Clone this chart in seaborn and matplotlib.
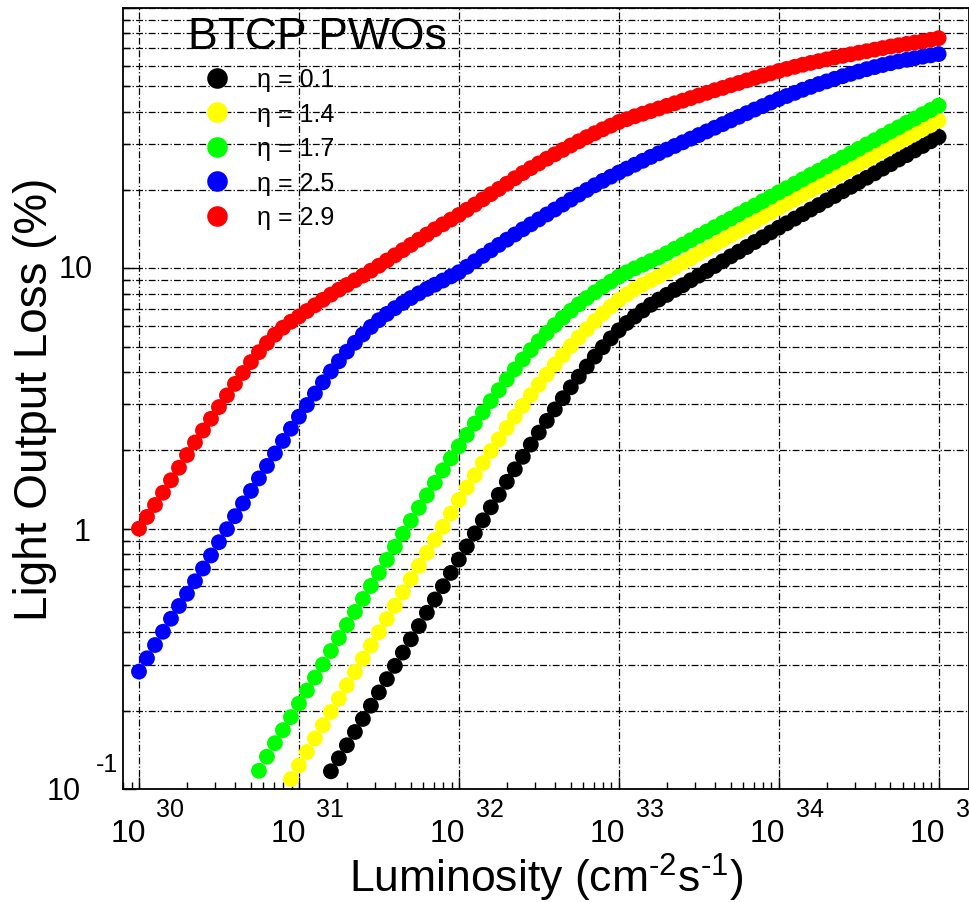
import numpy as np
import pandas as pd
import matplotlib
matplotlib.use("Agg")
import matplotlib.pyplot as plt
import seaborn as sns
from matplotlib.ticker import LogLocator, NullFormatter
from matplotlib.transforms import offset_copy

plt.rcParams["font.family"] = ["Liberation Sans", "DejaVu Sans"]
plt.rcParams["mathtext.fontset"] = "custom"
plt.rcParams["mathtext.rm"] = "Liberation Sans"
plt.rcParams["mathtext.default"] = "regular"

# log10 of luminosity (cm^-2 s^-1), one point every 0.05 decade
lumi_exp = [
    30.00, 30.05, 30.10, 30.15, 30.20, 30.25, 30.30, 30.35, 30.40, 30.45,
    30.50, 30.55, 30.60, 30.65, 30.70, 30.75, 30.80, 30.85, 30.90, 30.95,
    31.00, 31.05, 31.10, 31.15, 31.20, 31.25, 31.30, 31.35, 31.40, 31.45,
    31.50, 31.55, 31.60, 31.65, 31.70, 31.75, 31.80, 31.85, 31.90, 31.95,
    32.00, 32.05, 32.10, 32.15, 32.20, 32.25, 32.30, 32.35, 32.40, 32.45,
    32.50, 32.55, 32.60, 32.65, 32.70, 32.75, 32.80, 32.85, 32.90, 32.95,
    33.00, 33.05, 33.10, 33.15, 33.20, 33.25, 33.30, 33.35, 33.40, 33.45,
    33.50, 33.55, 33.60, 33.65, 33.70, 33.75, 33.80, 33.85, 33.90, 33.95,
    34.00, 34.05, 34.10, 34.15, 34.20, 34.25, 34.30, 34.35, 34.40, 34.45,
    34.50, 34.55, 34.60, 34.65, 34.70, 34.75, 34.80, 34.85, 34.90, 34.95,
    35.00,
]

# log10 of light output loss (%), each series ends at 10^35
eta29_log = [
    0.000, 0.045, 0.091, 0.138, 0.186, 0.234, 0.283, 0.331, 0.377, 0.422,
    0.467, 0.512, 0.556, 0.598, 0.640, 0.678, 0.713, 0.745, 0.772, 0.795,
    0.815, 0.836, 0.858, 0.879, 0.899, 0.918, 0.936, 0.954, 0.972, 0.991,
    1.010, 1.030, 1.050, 1.070, 1.090, 1.110, 1.130, 1.150, 1.169, 1.187,
    1.205, 1.225, 1.245, 1.265, 1.285, 1.305, 1.325, 1.346, 1.366, 1.385,
    1.403, 1.421, 1.438, 1.455, 1.472, 1.488, 1.504, 1.519, 1.534, 1.548,
    1.562, 1.573, 1.584, 1.594, 1.604, 1.614, 1.624, 1.634, 1.644, 1.654,
    1.664, 1.674, 1.684, 1.693, 1.703, 1.712, 1.722, 1.731, 1.740, 1.749,
    1.758, 1.766, 1.774, 1.782, 1.789, 1.796, 1.803, 1.810, 1.816, 1.822,
    1.828, 1.834, 1.840, 1.846, 1.852, 1.857, 1.862, 1.867, 1.872, 1.878,
    1.884,
]
eta25_log = [
    -0.549, -0.498, -0.447, -0.396, -0.346, -0.297, -0.250, -0.202, -0.153, -0.103,
    -0.052, -0.002, 0.048, 0.097, 0.145, 0.193, 0.241, 0.289, 0.337, 0.384,
    0.430, 0.475, 0.519, 0.562, 0.604, 0.643, 0.680, 0.714, 0.746, 0.775,
    0.801, 0.825, 0.847, 0.867, 0.886, 0.904, 0.921, 0.937, 0.953, 0.969,
    0.985, 1.006, 1.027, 1.048, 1.069, 1.090, 1.110, 1.130, 1.150, 1.169,
    1.188, 1.207, 1.226, 1.245, 1.264, 1.283, 1.301, 1.319, 1.336, 1.352,
    1.368, 1.383, 1.398, 1.413, 1.428, 1.442, 1.456, 1.470, 1.484, 1.498,
    1.512, 1.526, 1.540, 1.554, 1.568, 1.582, 1.596, 1.610, 1.623, 1.637,
    1.650, 1.662, 1.674, 1.686, 1.697, 1.708, 1.718, 1.728, 1.738, 1.747,
    1.756, 1.765, 1.773, 1.781, 1.788, 1.795, 1.801, 1.807, 1.813, 1.818,
    1.823,
]
eta17_log = [
    -0.930, -0.876, -0.824, -0.774, -0.724,
    -0.672, -0.622, -0.572, -0.522, -0.470, -0.420, -0.370, -0.320, -0.270, -0.220,
    -0.170, -0.120, -0.070, -0.020, 0.030, 0.080, 0.128, 0.176, 0.224, 0.270,
    0.316, 0.360, 0.404, 0.447, 0.490, 0.532, 0.573, 0.612, 0.650, 0.686,
    0.720, 0.752, 0.782, 0.810, 0.837, 0.862, 0.886, 0.908, 0.929, 0.949,
    0.968, 0.985, 1.000, 1.014, 1.028, 1.042, 1.058, 1.075, 1.091, 1.108,
    1.125, 1.141, 1.158, 1.175, 1.191, 1.208, 1.225, 1.241, 1.258, 1.275,
    1.292, 1.308, 1.325, 1.342, 1.359, 1.375, 1.392, 1.409, 1.426, 1.442,
    1.459, 1.476, 1.492, 1.509, 1.526, 1.542, 1.559, 1.575, 1.592, 1.608,
    1.625,
]
eta14_log = [
    -0.962,
    -0.910, -0.858, -0.806, -0.755, -0.704, -0.653, -0.602, -0.551, -0.500, -0.449,
    -0.398, -0.347, -0.296, -0.245, -0.194, -0.143, -0.093, -0.043, 0.007, 0.058,
    0.110, 0.158, 0.205, 0.252, 0.298, 0.343, 0.387, 0.430, 0.472, 0.513,
    0.553, 0.592, 0.630, 0.666, 0.701, 0.734, 0.766, 0.797, 0.826, 0.853,
    0.878, 0.900, 0.920, 0.938, 0.954, 0.969, 0.987, 1.004, 1.022, 1.039,
    1.057, 1.074, 1.092, 1.109, 1.127, 1.144, 1.162, 1.179, 1.197, 1.214,
    1.232, 1.249, 1.265, 1.282, 1.299, 1.316, 1.333, 1.349, 1.366, 1.383,
    1.400, 1.416, 1.433, 1.450, 1.467, 1.484, 1.500, 1.517, 1.534, 1.550,
    1.567,
]
eta01_log = [
    -0.932, -0.882, -0.832, -0.781, -0.731, -0.680,
    -0.629, -0.578, -0.527, -0.476, -0.425, -0.374, -0.323, -0.272, -0.221, -0.170,
    -0.119, -0.068, -0.018, 0.032, 0.082, 0.130, 0.180, 0.228, 0.276, 0.323,
    0.369, 0.414, 0.458, 0.501, 0.543, 0.584, 0.623, 0.661, 0.697, 0.731,
    0.762, 0.790, 0.815, 0.838, 0.860, 0.880, 0.898, 0.917, 0.935, 0.954,
    0.972, 0.990, 1.009, 1.027, 1.046, 1.064, 1.082, 1.101, 1.119, 1.138,
    1.156, 1.173, 1.191, 1.208, 1.226, 1.243, 1.261, 1.278, 1.296, 1.313,
    1.331, 1.348, 1.365, 1.383, 1.400, 1.418, 1.435, 1.453, 1.470, 1.488,
    1.505,
]

eta_labels = ["\u03b7 = 0.1", "\u03b7 = 1.4", "\u03b7 = 1.7", "\u03b7 = 2.5", "\u03b7 = 2.9"]
eta_colors = ["#000000", "#ffff00", "#00ff00", "#0000ff", "#ff0000"]
series_log = [eta01_log, eta14_log, eta17_log, eta25_log, eta29_log]

x_tick_exp = [30, 31, 32, 33, 34, 35]

# long table for seaborn
frames = []
for lab, vals in zip(eta_labels, series_log):
    xs = lumi_exp[-len(vals):]
    frames.append(pd.DataFrame({"lumi": 10.0 ** np.array(xs),
                                "loss": 10.0 ** np.array(vals),
                                "eta": lab}))
df = pd.concat(frames, ignore_index=True)

fig = plt.figure(figsize=(9.7, 9.03), dpi=100)
ax = fig.add_axes([123 / 970, 113 / 903, 846 / 970, 781 / 903])
ax.set_xscale("log")
ax.set_yscale("log")

sns.scatterplot(data=df, x="lumi", y="loss", hue="eta", hue_order=eta_labels,
                palette=eta_colors, s=130, linewidth=0, ax=ax)

ax.set_xlim(10 ** 29.9, 10 ** 35.19)
ax.set_ylim(0.1, 100)

# grid: dash-dot, vertical only at decades
ax.set_axisbelow(True)
gstyle = dict(color="black", linewidth=0.9, linestyle=(0, (5.5, 1.8, 1.0, 1.8)))
ax.grid(True, which="major", axis="both", **gstyle)
ax.grid(True, which="minor", axis="y", **gstyle)

ax.xaxis.set_major_locator(LogLocator(base=10, numticks=20))
ax.xaxis.set_minor_locator(LogLocator(base=10, subs=np.arange(2, 10), numticks=100))
ax.yaxis.set_minor_locator(LogLocator(base=10, subs=np.arange(2, 10), numticks=100))
for axis in (ax.xaxis, ax.yaxis):
    axis.set_major_formatter(NullFormatter())
    axis.set_minor_formatter(NullFormatter())
ax.tick_params(which="both", direction="in", top=False, right=False, width=1, color="black")
ax.tick_params(which="major", length=9)
ax.tick_params(which="minor", length=5)
for sp in ax.spines.values():
    sp.set_linewidth(1.3)
    sp.set_color("black")

# ROOT-style tick labels: big "10" with exponent set apart
xt = ax.get_xaxis_transform()
for n in x_tick_exp:
    ax.text(10.0 ** n, 0, "10", transform=offset_copy(xt, fig=fig, x=-11, y=-52, units="dots"),
            ha="center", va="baseline", fontsize=23, clip_on=False)
    ax.text(10.0 ** n, 0, str(n), transform=offset_copy(xt, fig=fig, x=31, y=-27, units="dots"),
            ha="center", va="baseline", fontsize=18, clip_on=False)

yt = ax.get_yaxis_transform()
ax.text(0, 10, "10", transform=offset_copy(yt, fig=fig, x=-30, y=-9, units="dots"),
        ha="right", va="baseline", fontsize=22)
ax.text(0, 1, "1", transform=offset_copy(yt, fig=fig, x=-32, y=-11, units="dots"),
        ha="right", va="baseline", fontsize=22)
ax.text(0, 0.1, "10", transform=offset_copy(yt, fig=fig, x=-59, y=-10, units="dots"),
        ha="center", va="baseline", fontsize=22)
ax.text(0, 0.1, "-1", transform=offset_copy(yt, fig=fig, x=-16, y=18, units="dots"),
        ha="center", va="baseline", fontsize=18)

ax.set_xlabel(r"Luminosity (cm$^{\text{-}2}$s$^{\text{-}1}$)", fontsize=32, va="baseline")
ax.xaxis.set_label_coords(0.5, -103 / 781)
ax.set_ylabel("Light Output Loss (%)", fontsize=33, va="baseline")
ax.yaxis.set_label_coords(-76 / 846, 0.5)

sns.move_legend(ax, "upper left", bbox_to_anchor=(65 / 846, 0.990), title="BTCP PWOs",
                frameon=False, fontsize=18, title_fontsize=32, markerscale=1.3,
                handlelength=2.3, handletextpad=0.45, labelspacing=0.42,
                borderpad=0, borderaxespad=0, alignment="left")

fig.savefig("out.png", dpi=100)
